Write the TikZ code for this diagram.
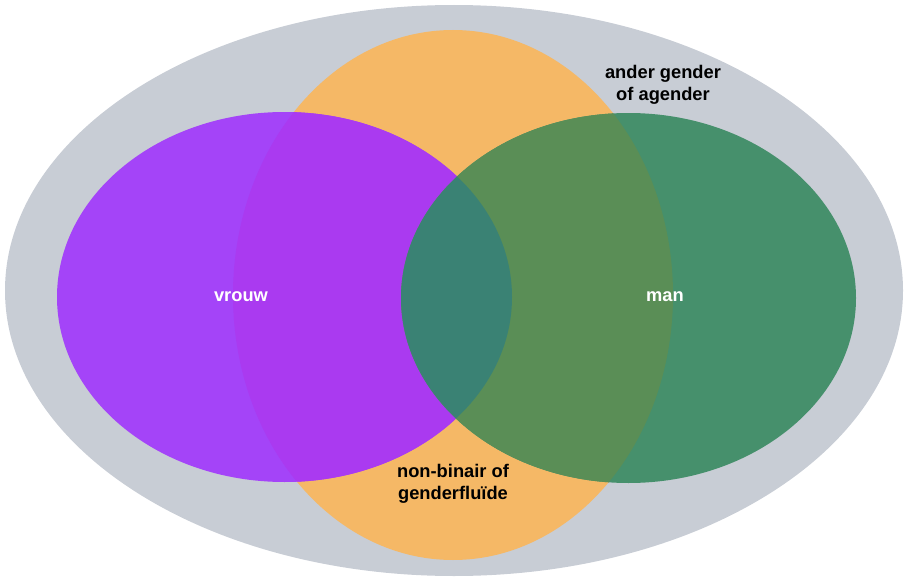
\documentclass[tikz,border=0pt]{standalone}
\usepackage{fontspec}
\setmainfont{Liberation Sans}
\usepackage{xcolor}
\definecolor{rest}{HTML}{C8CDD5}
\definecolor{nbcol}{HTML}{F5B866}
\definecolor{vrcol}{HTML}{A444F8}
\definecolor{vrnb}{HTML}{AA3AF0}
\definecolor{mancol}{HTML}{46906C}
\definecolor{mannb}{HTML}{5A8E56}
\definecolor{midcol}{HTML}{3A8274}
\tikzstyle{lbl}=[font=\bfseries\fontsize{18.3}{21.5}\selectfont, align=center, inner sep=0pt]
\tikzstyle{wlbl}=[lbl, text=white]

\begin{document}
\begin{tikzpicture}[x=1pt,y=-1pt]
        \useasboundingbox (0,0) rectangle (905,578);
        \def\nbset{(453,295) ellipse [x radius=220, y radius=265]}
        \def\vrset{(284.5,297) ellipse [x radius=227.5, y radius=185]}
        \def\manset{(628.5,298) ellipse [x radius=227.5, y radius=185]}

        \fill[rest] (454,290.5) ellipse [x radius=449, y radius=285.5];
        \fill[nbcol] \nbset;
        \fill[vrcol] \vrset;
        \fill[mancol] \manset;
        % overlaps
        \begin{scope}
          \clip \nbset;
          \fill[vrnb] \vrset;
          \fill[mannb] \manset;
        \end{scope}
        \begin{scope}
          \clip \vrset;
          \fill[midcol] \manset;
        \end{scope}

        \node [wlbl] (vrouw) at (241,297) {vrouw};
        \node [wlbl] (man) at (665,297) {man};
        \node [lbl] (ander) at (663,85) {ander gender\\of agender};
        \node [lbl] (nonbin) at (453,484) {non-binair of\\genderfluïde};
\end{tikzpicture}
\end{document}
